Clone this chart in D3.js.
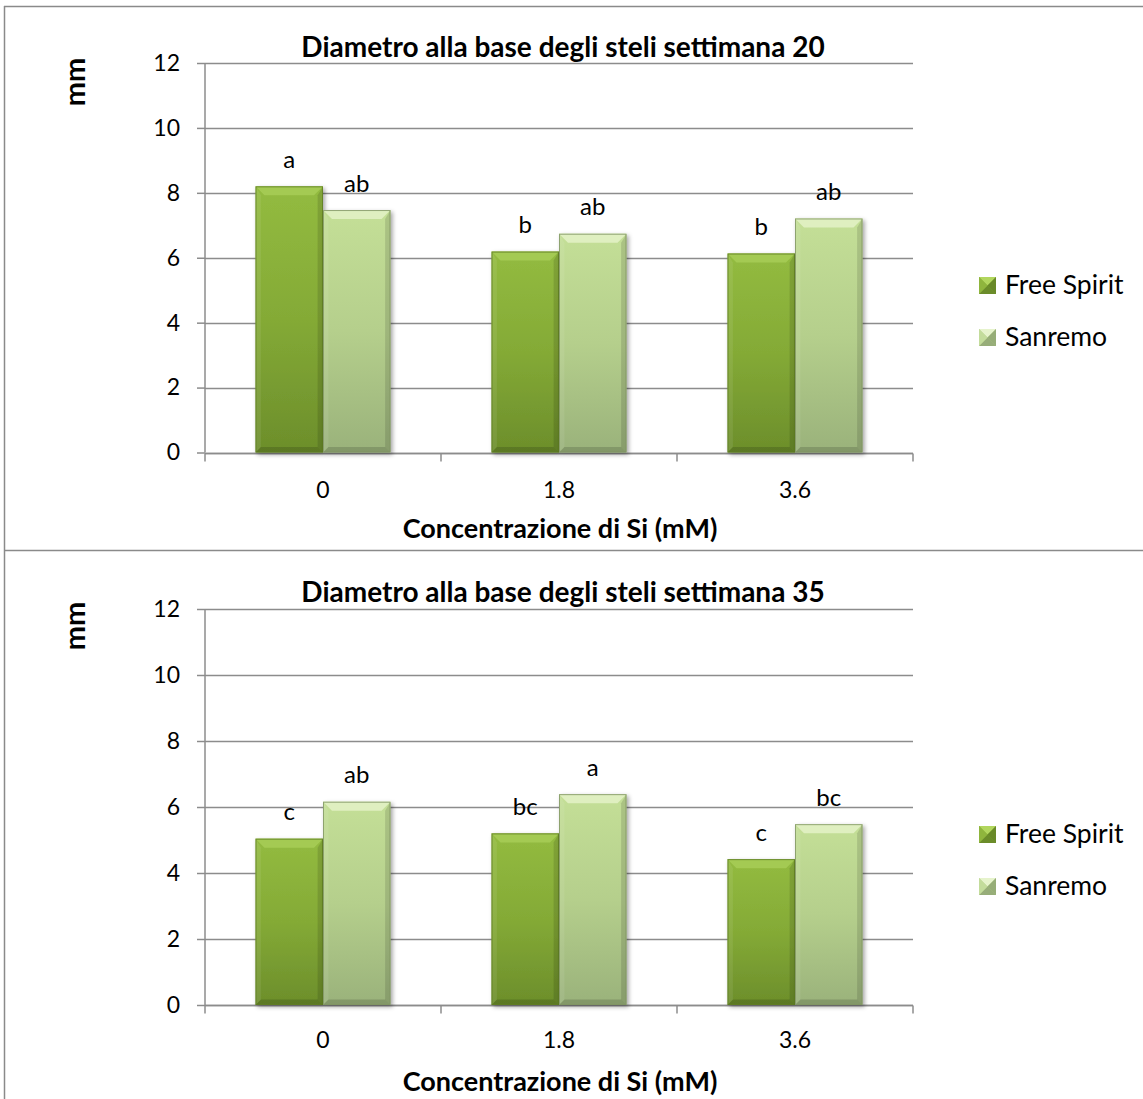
<!DOCTYPE html>
<html>
<head>
<meta charset="utf-8">
<script src="https://cdn.jsdelivr.net/npm/d3@7"></script>
<style>
  html, body { margin: 0; padding: 0; background: #fff; }
  svg { display: block; font-family: Lato, "Open Sans", sans-serif; }
</style>
</head>
<body>
<svg id="chart" width="1143" height="1099"></svg>
<script>
// ---- data ----
const categories = ["0", "1.8", "3.6"];
const seriesNames = ["Free Spirit", "Sanremo"];
const yTicks = [0, 2, 4, 6, 8, 10, 12];

const titles = ["Diametro alla base degli steli settimana 20", "Diametro alla base degli steli settimana 35"];
const yAxisTitle = "mm";
const xAxisTitle = "Concentrazione di Si (mM)";

const week20FreeSpirit = [8.20, 6.19, 6.13];
const week20Sanremo = [7.47, 6.74, 7.21];
const week20LettersFreeSpirit = ["a", "b", "b"];
const week20LettersSanremo = ["ab", "ab", "ab"];

const week35FreeSpirit = [5.04, 5.20, 4.42];
const week35Sanremo = [6.16, 6.39, 5.48];
const week35LettersFreeSpirit = ["c", "bc", "c"];
const week35LettersSanremo = ["ab", "a", "bc"];

// ---- layout ----
const svg = d3.select("#chart");
const W = 1143, H = 1099;

const panels = [
  { title: titles[0], fs: week20FreeSpirit, sr: week20Sanremo, lfs: week20LettersFreeSpirit, lsr: week20LettersSanremo,
    top: 63, bottom: 452.5, titleY: 57, tickLabY: 498, axisTitleY: 538, mmY: 82, legY: [285, 337] },
  { title: titles[1], fs: week35FreeSpirit, sr: week35Sanremo, lfs: week35LettersFreeSpirit, lsr: week35LettersSanremo,
    top: 609, bottom: 1005, titleY: 602, tickLabY: 1048, axisTitleY: 1091, mmY: 626, legY: [834, 886] }
];
const plotLeft = 205, plotRight = 913;

// ---- defs: gradients & shadow ----
const defs = svg.append("defs");
function vGrad(id, stops) {
  const g = defs.append("linearGradient").attr("id", id).attr("x1", 0).attr("y1", 0).attr("x2", 0).attr("y2", 1);
  stops.forEach(s => g.append("stop").attr("offset", s[0]).attr("stop-color", s[1]));
}
vGrad("gFS", [[0, "#93bb40"], [0.5, "#84aa36"], [1, "#6c8e2b"]]);
vGrad("gSR", [[0, "#c4df97"], [0.5, "#b5cf8c"], [1, "#9ab27b"]]);
const seriesFill = ["url(#gFS)", "url(#gSR)"];
const bevelTop = ["#a6cc55", "#e2f1c4"];
const edgeStroke = ["#5f7d24", "#7f9463"];

const f = defs.append("filter").attr("id", "shadow").attr("x", "-10%").attr("y", "-10%").attr("width", "130%").attr("height", "130%");
f.append("feDropShadow").attr("dx", 2).attr("dy", 2).attr("stdDeviation", 2).attr("flood-color", "#000").attr("flood-opacity", 0.35);

// ---- outer frame ----
svg.append("line").attr("x1", 4.5).attr("x2", 4.5).attr("y1", 6).attr("y2", H).attr("stroke", "#8a8a8a").attr("stroke-width", 1.5);
svg.append("line").attr("x1", 4).attr("x2", W).attr("y1", 6.5).attr("y2", 6.5).attr("stroke", "#8a8a8a").attr("stroke-width", 1.5);
svg.append("line").attr("x1", 4).attr("x2", W).attr("y1", 550.5).attr("y2", 550.5).attr("stroke", "#8a8a8a").attr("stroke-width", 1.5);

const x0 = d3.scaleBand().domain(categories).range([plotLeft, plotRight]).paddingInner(0).paddingOuter(0);
const groupW = 135;
const x1 = d3.scaleBand().domain(seriesNames).range([0, groupW]);

function bevelBar(g, x, y, w, h, si) {
  const b = Math.min(9, h / 2);
  const bar = g.append("g").attr("filter", "url(#shadow)");
  bar.append("rect").attr("x", x).attr("y", y).attr("width", w).attr("height", h).attr("fill", seriesFill[si]);
  bar.append("polygon").attr("points", [[x, y], [x + w, y], [x + w - b, y + b], [x + b, y + b]].join(" "))
    .attr("fill", bevelTop[si]).attr("opacity", 0.9);
  bar.append("polygon").attr("points", [[x, y], [x + b * 0.6, y + b], [x + b * 0.6, y + h - b * 0.6], [x, y + h]].join(" "))
    .attr("fill", "#fff").attr("opacity", 0.08);
  bar.append("polygon").attr("points", [[x + w, y], [x + w - b * 0.6, y + b], [x + w - b * 0.6, y + h - b * 0.6], [x + w, y + h]].join(" "))
    .attr("fill", "#000").attr("opacity", 0.12);
  bar.append("polygon").attr("points", [[x, y + h], [x + b * 0.6, y + h - b * 0.6], [x + w - b * 0.6, y + h - b * 0.6], [x + w, y + h]].join(" "))
    .attr("fill", "#000").attr("opacity", 0.15);
  bar.append("rect").attr("x", x + 0.5).attr("y", y + 0.5).attr("width", w - 1).attr("height", h - 1)
    .attr("fill", "none").attr("stroke", edgeStroke[si]).attr("stroke-width", 1).attr("opacity", 0.8);
}

function legendMarker(g, x, y, s, si) {
  const c = [x + s / 2, y + s / 2];
  const base = si === 0 ? ["#b2d65e", "#6b8c2a", "#86ab37", "#8fb53d", "#5d7b22"] : ["#e6f3cc", "#97ad79", "#b8d18f", "#c3dc9b", "#889e6c"];
  g.append("rect").attr("x", x).attr("y", y).attr("width", s).attr("height", s).attr("fill", base[2]);
  g.append("polygon").attr("points", [[x, y], [x + s, y], c].join(" ")).attr("fill", base[0]);
  g.append("polygon").attr("points", [[x, y + s], [x + s, y + s], c].join(" ")).attr("fill", base[1]);
  g.append("polygon").attr("points", [[x, y], [x, y + s], c].join(" ")).attr("fill", base[3]);
  g.append("polygon").attr("points", [[x + s, y], [x + s, y + s], c].join(" ")).attr("fill", base[4]).attr("opacity", 0.7);
}

panels.forEach(p => {
  const g = svg.append("g");
  const y = d3.scaleLinear().domain([0, 12]).range([p.bottom, p.top]);

  g.append("g").selectAll("line").data(yTicks).join("line")
    .attr("x1", plotLeft).attr("x2", plotRight)
    .attr("y1", d => Math.round(y(d)) + 0.5).attr("y2", d => Math.round(y(d)) + 0.5)
    .attr("stroke", "#8c8c8c").attr("stroke-width", 1.5);

  const ya = g.append("g").attr("transform", `translate(${plotLeft},0)`)
    .call(d3.axisLeft(y).tickValues(yTicks).tickSize(8).tickPadding(17).tickFormat(d3.format("d")));
  ya.select(".domain").attr("stroke", "#8c8c8c").attr("stroke-width", 1.5).attr("d", `M0,${p.top}V${p.bottom}`);
  ya.selectAll(".tick line").attr("stroke", "#8c8c8c").attr("stroke-width", 1.5);
  ya.selectAll(".tick text").attr("font-size", 23).attr("fill", "#000").attr("font-family", "Lato, sans-serif");

  const xa = g.append("g").attr("transform", `translate(0,${Math.round(p.bottom) + 0.5})`);
  xa.append("line").attr("x1", plotLeft).attr("x2", plotRight).attr("stroke", "#8c8c8c").attr("stroke-width", 1.5);
  const bounds = categories.map(c => x0(c)).concat([x0(categories[categories.length - 1]) + x0.bandwidth()]);
  xa.selectAll("line.tk").data(bounds).join("line").attr("class", "tk")
    .attr("x1", d => d).attr("x2", d => d).attr("y1", 0).attr("y2", 8)
    .attr("stroke", "#8c8c8c").attr("stroke-width", 1.5);
  g.selectAll("text.xl").data(categories).join("text").attr("class", "xl")
    .attr("x", d => x0(d) + x0.bandwidth() / 2).attr("y", p.tickLabY)
    .attr("text-anchor", "middle").attr("font-size", 23).text(d => d);

  const data = [];
  categories.forEach((c, i) => {
    data.push({ c, s: 0, v: p.fs[i], l: p.lfs[i] });
    data.push({ c, s: 1, v: p.sr[i], l: p.lsr[i] });
  });
  const off = (x0.bandwidth() - groupW) / 2;
  data.forEach(d => {
    const bx = x0(d.c) + off + x1(seriesNames[d.s]);
    const by = y(d.v);
    bevelBar(g, bx, by, x1.bandwidth(), y(0) - by, d.s);
  });
  g.selectAll("text.lt").data(data).join("text").attr("class", "lt")
    .attr("x", d => x0(d.c) + off + x1(seriesNames[d.s]) + x1.bandwidth() / 2)
    .attr("y", d => y(d.v) - 18.5)
    .attr("text-anchor", "middle").attr("font-size", 24).text(d => d.l);

  g.append("text").attr("x", 563).attr("y", p.titleY).attr("text-anchor", "middle")
    .attr("font-size", 28).attr("font-weight", "bold").text(p.title);
  g.append("text").attr("x", 560).attr("y", p.axisTitleY).attr("text-anchor", "middle")
    .attr("font-size", 27).attr("font-weight", "bold").text(xAxisTitle);
  g.append("text").attr("transform", `translate(85,${p.mmY}) rotate(-90)`).attr("text-anchor", "middle")
    .attr("font-size", 29).attr("font-weight", "bold").text(yAxisTitle);

  seriesNames.forEach((s, i) => {
    legendMarker(g, 979, p.legY[i] - 8, 17, i);
    g.append("text").attr("x", 1005).attr("y", p.legY[i]).attr("dy", "0.35em").attr("font-size", 26.5).text(s);
  });
});
</script>
</body>
</html>
